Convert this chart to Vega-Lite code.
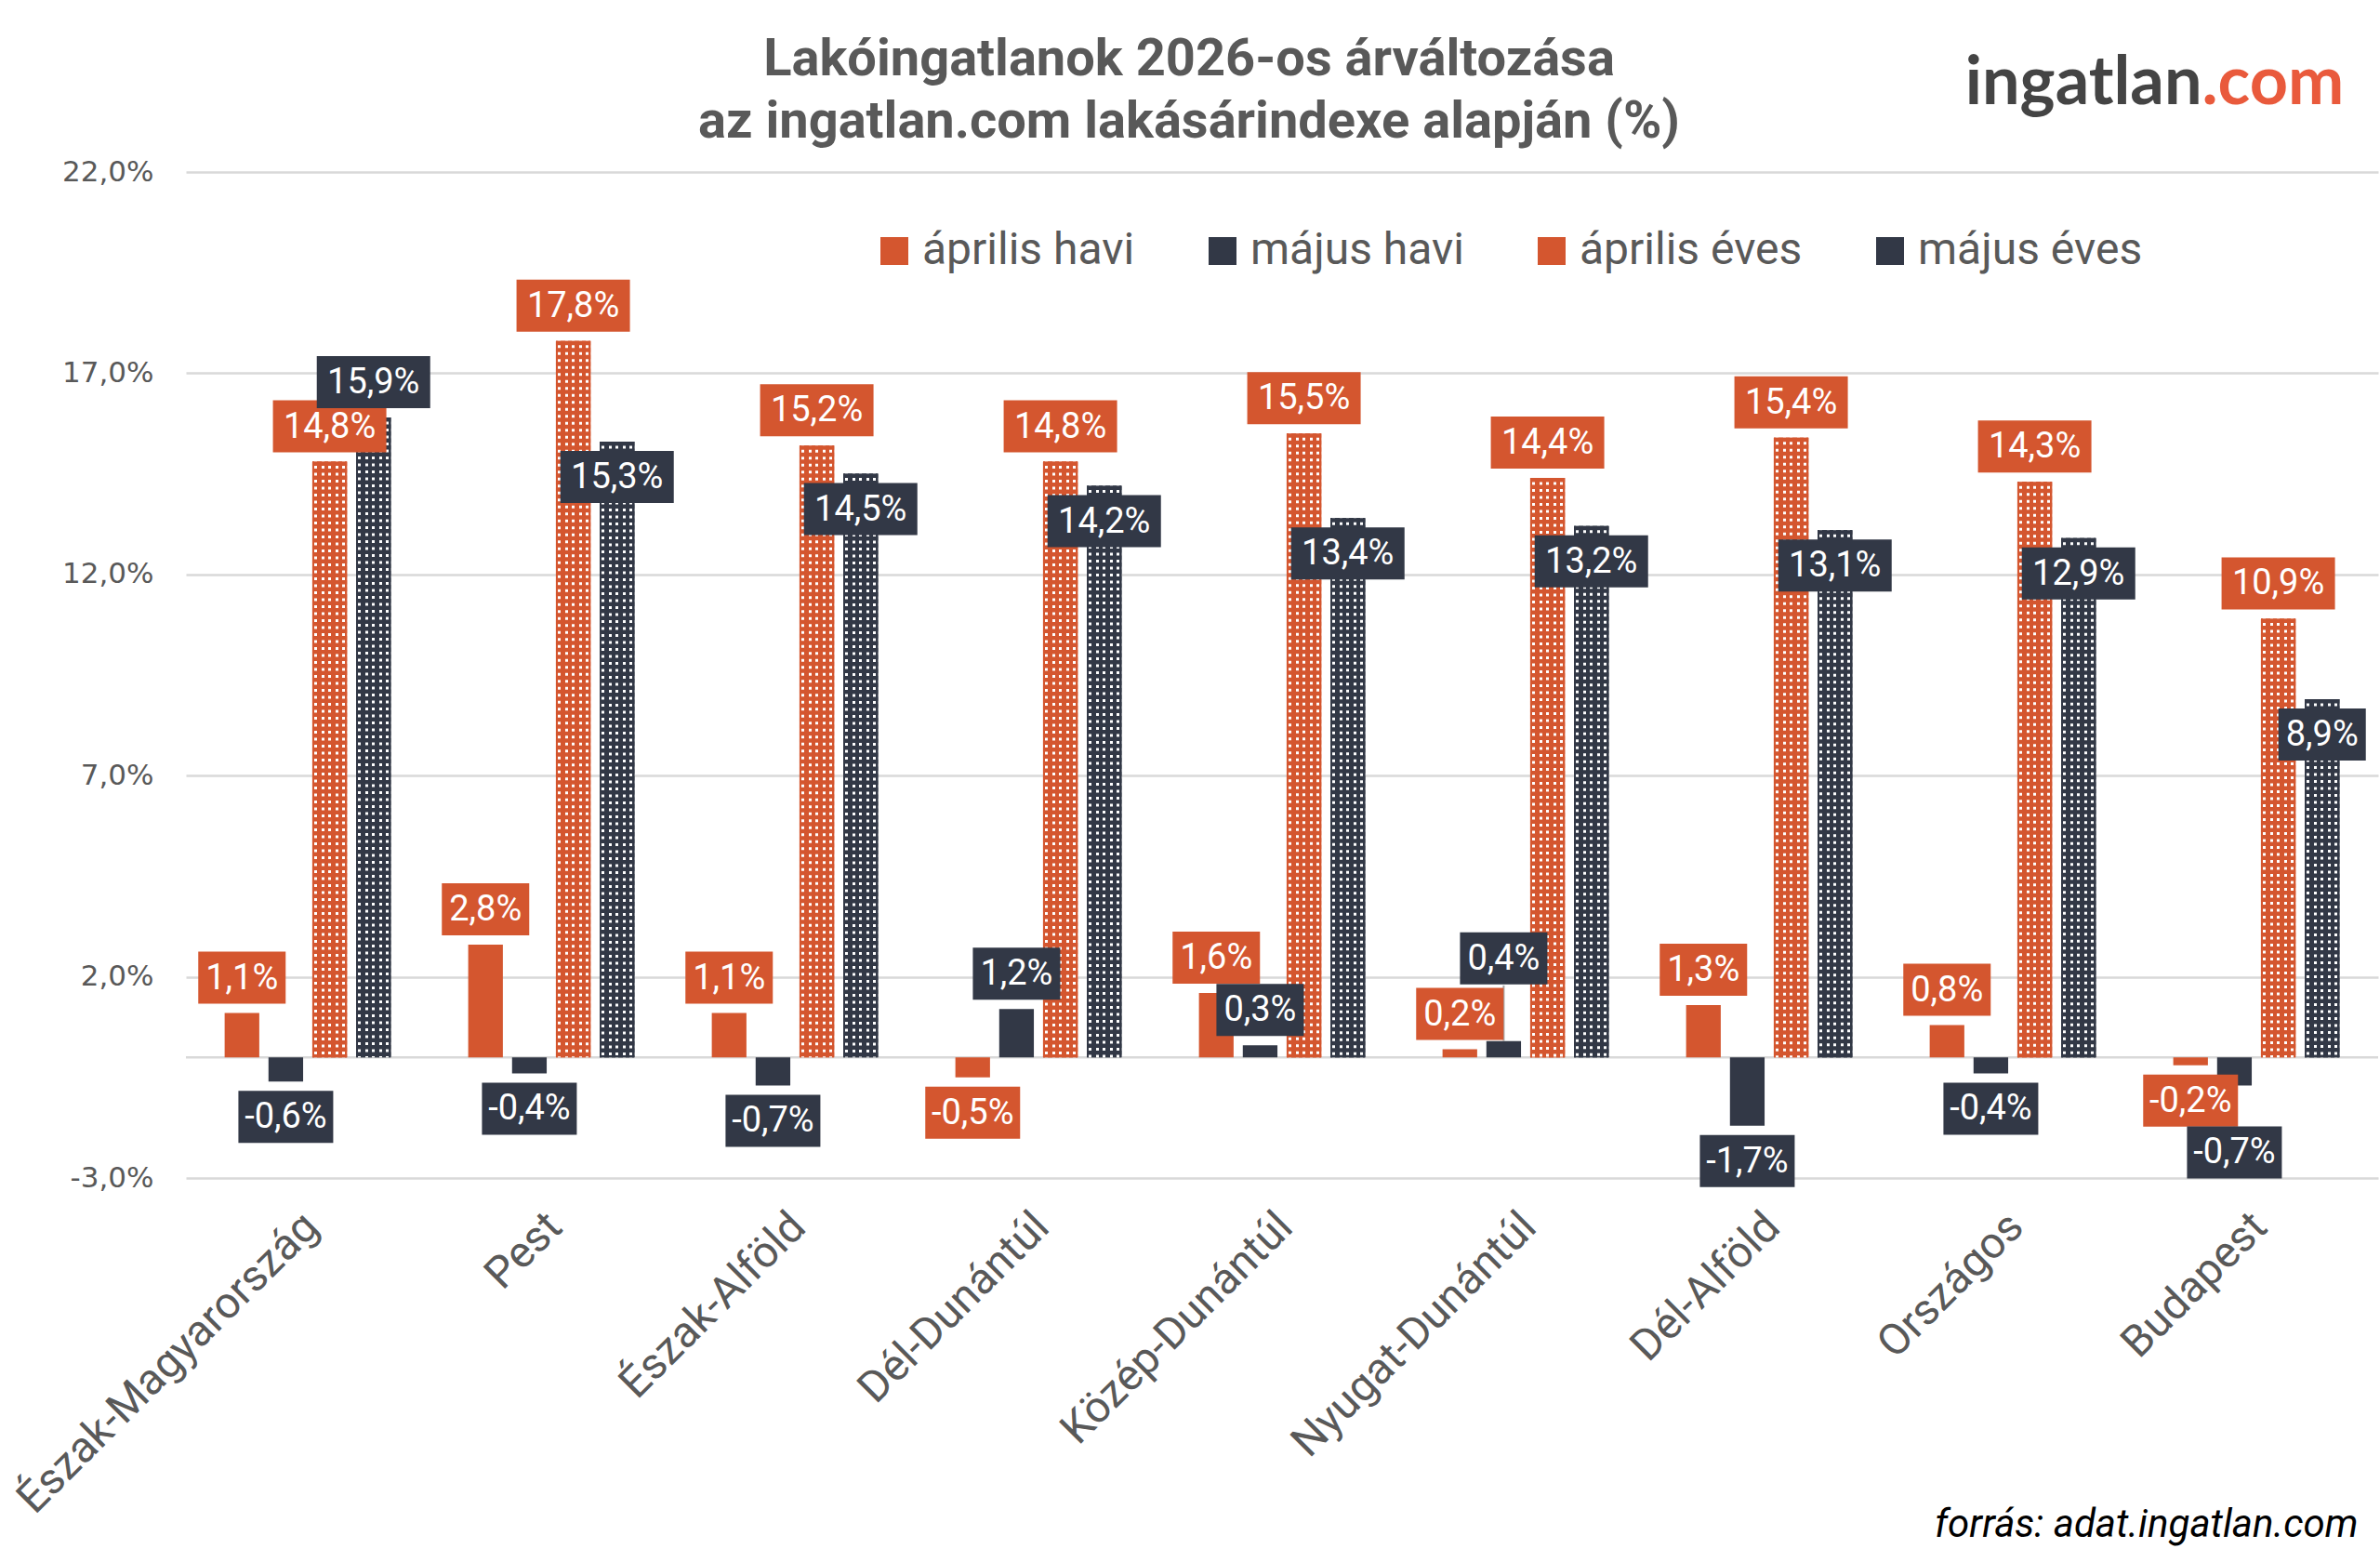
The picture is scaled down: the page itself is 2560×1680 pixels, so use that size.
{
  "$schema": "https://vega.github.io/schema/vega-lite/v6.json",
  "width": 2358,
  "height": 1082,
  "autosize": {"type": "none"},
  "padding": {"left": 200, "top": 185, "right": 2, "bottom": 413},
  "background": "#ffffff",
  "title": {
    "text": ["Lakóingatlanok 2026-os árváltozása", "az ingatlan.com lakásárindexe alapján (%)"],
    "anchor": "middle",
    "frame": "group",
    "dx": -100,
    "dy": 131,
    "offset": 24,
    "font": "Roboto",
    "fontSize": 56,
    "fontWeight": "bold",
    "color": "#595959",
    "lineHeight": 67
  },
  "data": {
    "values": [
      {"region": "Észak-Magyarország", "series": "április havi", "value": 1.1},
      {"region": "Észak-Magyarország", "series": "május havi", "value": -0.6},
      {"region": "Észak-Magyarország", "series": "április éves", "value": 14.8},
      {"region": "Észak-Magyarország", "series": "május éves", "value": 15.9},
      {"region": "Pest", "series": "április havi", "value": 2.8},
      {"region": "Pest", "series": "május havi", "value": -0.4},
      {"region": "Pest", "series": "április éves", "value": 17.8},
      {"region": "Pest", "series": "május éves", "value": 15.3},
      {"region": "Észak-Alföld", "series": "április havi", "value": 1.1},
      {"region": "Észak-Alföld", "series": "május havi", "value": -0.7},
      {"region": "Észak-Alföld", "series": "április éves", "value": 15.2},
      {"region": "Észak-Alföld", "series": "május éves", "value": 14.5},
      {"region": "Dél-Dunántúl", "series": "április havi", "value": -0.5},
      {"region": "Dél-Dunántúl", "series": "május havi", "value": 1.2},
      {"region": "Dél-Dunántúl", "series": "április éves", "value": 14.8},
      {"region": "Dél-Dunántúl", "series": "május éves", "value": 14.2},
      {"region": "Közép-Dunántúl", "series": "április havi", "value": 1.6},
      {"region": "Közép-Dunántúl", "series": "május havi", "value": 0.3},
      {"region": "Közép-Dunántúl", "series": "április éves", "value": 15.5},
      {"region": "Közép-Dunántúl", "series": "május éves", "value": 13.4},
      {"region": "Nyugat-Dunántúl", "series": "április havi", "value": 0.2},
      {"region": "Nyugat-Dunántúl", "series": "május havi", "value": 0.4},
      {"region": "Nyugat-Dunántúl", "series": "április éves", "value": 14.4},
      {"region": "Nyugat-Dunántúl", "series": "május éves", "value": 13.2},
      {"region": "Dél-Alföld", "series": "április havi", "value": 1.3},
      {"region": "Dél-Alföld", "series": "május havi", "value": -1.7},
      {"region": "Dél-Alföld", "series": "április éves", "value": 15.4},
      {"region": "Dél-Alföld", "series": "május éves", "value": 13.1},
      {"region": "Országos", "series": "április havi", "value": 0.8},
      {"region": "Országos", "series": "május havi", "value": -0.4},
      {"region": "Országos", "series": "április éves", "value": 14.3},
      {"region": "Országos", "series": "május éves", "value": 12.9},
      {"region": "Budapest", "series": "április havi", "value": -0.2},
      {"region": "Budapest", "series": "május havi", "value": -0.7},
      {"region": "Budapest", "series": "április éves", "value": 10.9},
      {"region": "Budapest", "series": "május éves", "value": 8.9}
    ]
  },
  "transform": [
    {"calculate": "(datum.value < 0 ? '-' : '') + replace(format(abs(datum.value), '.1f'), '.', ',') + '%'", "as": "label"},
    {"calculate": "length(datum.label) == 4 ? 94 : (datum.value < 0 ? 102 : 122)", "as": "boxWidth"}
  ],
  "layer": [
    {
      "data": {"values": [{}]},
      "mark": {"type": "rule", "color": "#d9d9d9", "strokeWidth": 2.5},
      "encoding": {
        "y": {
          "datum": 0,
          "type": "quantitative",
          "axis": {
            "orient": "right",
            "labels": false,
            "grid": false,
            "title": ".com",
            "titleAngle": 0,
            "titleX": -190,
            "titleY": -74,
            "titleAlign": "left",
            "titleBaseline": "alphabetic",
            "titleFont": "Lato",
            "titleFontSize": 72,
            "titleFontWeight": "bold",
            "titleColor": "#E95A3C"
          }
        }
      }
    },
    {
      "encoding": {
        "x": {
          "field": "region",
          "type": "nominal",
          "sort": null,
          "scale": {
            "domain": ["Észak-Magyarország", "Pest", "Észak-Alföld", "Dél-Dunántúl", "Közép-Dunántúl", "Nyugat-Dunántúl", "Dél-Alföld", "Országos", "Budapest"],
            "paddingInner": 0.28,
            "paddingOuter": 0.14
          },
          "axis": {
            "labelAngle": -45,
            "labelAlign": "right",
            "labelBaseline": "middle",
            "labelFont": "Roboto",
            "labelFontSize": 47,
            "labelColor": "#595959",
            "labelPadding": 45,
            "labelOffset": 4,
            "labelLimit": 0,
            "grid": false,
            "title": "forrás: adat.ingatlan.com",
            "titleX": 2336,
            "titleY": 385,
            "titleAlign": "right",
            "titleBaseline": "alphabetic",
            "titleFont": "Roboto",
            "titleFontStyle": "italic",
            "titleFontWeight": "normal",
            "titleFontSize": 42,
            "titleColor": "#000000"
          }
        },
        "xOffset": {
          "field": "series",
          "type": "nominal",
          "scale": {
            "domain": ["április havi", "május havi", "április éves", "május éves"],
            "paddingInner": 0.21,
            "paddingOuter": 0.105
          }
        },
        "y": {
          "field": "value",
          "type": "quantitative",
          "scale": {"domain": [-3, 22], "nice": false},
          "axis": {
            "values": [-3, 2, 7, 12, 17, 22],
            "labelExpr": "(datum.value < 0 ? '-' : '') + replace(format(abs(datum.value), '.1f'), '.', ',') + '%'",
            "labelFont": "DejaVu Sans",
            "labelFontSize": 31,
            "labelColor": "#595959",
            "labelPadding": 35,
            "grid": true,
            "title": "ingatlan",
            "titleAngle": 0,
            "titleX": 2168,
            "titleY": -74,
            "titleAlign": "right",
            "titleBaseline": "alphabetic",
            "titleFont": "Lato",
            "titleFontSize": 72,
            "titleFontWeight": "bold",
            "titleColor": "#444444"
          }
        }
      },
      "layer": [
        {
          "mark": {"type": "bar"},
          "encoding": {
            "fill": {
              "field": "series",
              "type": "nominal",
              "scale": {
                "domain": ["április havi", "május havi", "április éves", "május éves"],
                "range": ["#D4562F", "#323846", "#D4562F", "#323846"]
              },
              "legend": {
                "orient": "none",
                "legendX": 738,
                "legendY": 61,
                "direction": "horizontal",
                "columns": 4,
                "title": null,
                "symbolType": "square",
                "symbolSize": 900,
                "symbolStrokeWidth": 0,
                "labelFont": "Roboto",
                "labelFontSize": 48,
                "labelColor": "#595959",
                "labelOffset": 6,
                "labelLimit": 0,
                "columnPadding": 70
              }
            }
          }
        },
        {
          "transform": [{"filter": "datum.series === 'április éves'"}],
          "mark": {
            "type": "bar",
            "fill": {
              "gradient": "linear", "x1": 0, "y1": 0, "x2": 1, "y2": 0,
              "stops": [
                {"offset": 0, "color": "#D4562F"}, {"offset": 0.06, "color": "#D4562F"},
                {"offset": 0.06, "color": "#ffffff"}, {"offset": 0.14, "color": "#ffffff"},
                {"offset": 0.14, "color": "#D4562F"}, {"offset": 0.26, "color": "#D4562F"},
                {"offset": 0.26, "color": "#ffffff"}, {"offset": 0.34, "color": "#ffffff"},
                {"offset": 0.34, "color": "#D4562F"}, {"offset": 0.46, "color": "#D4562F"},
                {"offset": 0.46, "color": "#ffffff"}, {"offset": 0.54, "color": "#ffffff"},
                {"offset": 0.54, "color": "#D4562F"}, {"offset": 0.66, "color": "#D4562F"},
                {"offset": 0.66, "color": "#ffffff"}, {"offset": 0.74, "color": "#ffffff"},
                {"offset": 0.74, "color": "#D4562F"}, {"offset": 0.86, "color": "#D4562F"},
                {"offset": 0.86, "color": "#ffffff"}, {"offset": 0.94, "color": "#ffffff"},
                {"offset": 0.94, "color": "#D4562F"}, {"offset": 1, "color": "#D4562F"}
              ]
            }
          }
        },
        {
          "transform": [{"filter": "datum.series === 'május éves'"}],
          "mark": {
            "type": "bar",
            "fill": {
              "gradient": "linear", "x1": 0, "y1": 0, "x2": 1, "y2": 0,
              "stops": [
                {"offset": 0, "color": "#323846"}, {"offset": 0.06, "color": "#323846"},
                {"offset": 0.06, "color": "#ffffff"}, {"offset": 0.14, "color": "#ffffff"},
                {"offset": 0.14, "color": "#323846"}, {"offset": 0.26, "color": "#323846"},
                {"offset": 0.26, "color": "#ffffff"}, {"offset": 0.34, "color": "#ffffff"},
                {"offset": 0.34, "color": "#323846"}, {"offset": 0.46, "color": "#323846"},
                {"offset": 0.46, "color": "#ffffff"}, {"offset": 0.54, "color": "#ffffff"},
                {"offset": 0.54, "color": "#323846"}, {"offset": 0.66, "color": "#323846"},
                {"offset": 0.66, "color": "#ffffff"}, {"offset": 0.74, "color": "#ffffff"},
                {"offset": 0.74, "color": "#323846"}, {"offset": 0.86, "color": "#323846"},
                {"offset": 0.86, "color": "#ffffff"}, {"offset": 0.94, "color": "#ffffff"},
                {"offset": 0.94, "color": "#323846"}, {"offset": 1, "color": "#323846"}
              ]
            }
          }
        },
        {
          "transform": [{"filter": "datum.series === 'április éves'"}],
          "mark": {"type": "rule", "color": "#D4562F", "strokeWidth": 37.2, "strokeDash": [4.5, 3], "strokeCap": "butt"},
          "encoding": {"y2": {"datum": 0}}
        },
        {
          "transform": [{"filter": "datum.series === 'május éves'"}],
          "mark": {"type": "rule", "color": "#323846", "strokeWidth": 37.2, "strokeDash": [4.5, 3], "strokeCap": "butt"},
          "encoding": {"y2": {"datum": 0}}
        },
        {
          "transform": [{"filter": "datum.region === 'Nyugat-Dunántúl' && datum.series === 'május havi'"}],
          "mark": {"type": "rule", "color": "#a6a6a6", "strokeWidth": 2, "y2Offset": -60},
          "encoding": {"y2": {"field": "value"}}
        },
        {
          "transform": [{"filter": "datum.region === 'Budapest' && datum.series === 'május havi'"}],
          "mark": {"type": "rule", "color": "#a6a6a6", "strokeWidth": 2, "y2Offset": 44},
          "encoding": {"y2": {"field": "value"}}
        },
        {
          "transform": [{"filter": "datum.value >= 0 && (datum.series !== 'május éves' || datum.region === 'Észak-Magyarország') && !(datum.region === 'Nyugat-Dunántúl' && datum.series === 'május havi')"}],
          "mark": {"type": "tick", "orient": "horizontal", "thickness": 56, "opacity": 1, "yOffset": -38},
          "encoding": {
            "color": {"field": "series", "type": "nominal", "scale": {"domain": ["április havi", "május havi", "április éves", "május éves"], "range": ["#D4562F", "#323846", "#D4562F", "#323846"]}, "legend": null},
            "size": {"field": "boxWidth", "type": "quantitative", "scale": null}
          }
        },
        {
          "transform": [{"filter": "datum.series === 'május éves' && datum.region !== 'Észak-Magyarország'"}],
          "mark": {"type": "tick", "orient": "horizontal", "thickness": 56, "opacity": 1, "yOffset": 38},
          "encoding": {
            "color": {"field": "series", "type": "nominal", "legend": null},
            "size": {"field": "boxWidth", "type": "quantitative", "scale": null}
          }
        },
        {
          "transform": [{"filter": "datum.value < 0 && !(datum.region === 'Budapest' && datum.series === 'május havi')"}],
          "mark": {"type": "tick", "orient": "horizontal", "thickness": 56, "opacity": 1, "yOffset": 38},
          "encoding": {
            "color": {"field": "series", "type": "nominal", "legend": null},
            "size": {"field": "boxWidth", "type": "quantitative", "scale": null}
          }
        },
        {
          "transform": [{"filter": "datum.region === 'Nyugat-Dunántúl' && datum.series === 'május havi'"}],
          "mark": {"type": "tick", "orient": "horizontal", "thickness": 56, "opacity": 1, "yOffset": -89},
          "encoding": {
            "color": {"field": "series", "type": "nominal", "legend": null},
            "size": {"field": "boxWidth", "type": "quantitative", "scale": null}
          }
        },
        {
          "transform": [{"filter": "datum.region === 'Budapest' && datum.series === 'május havi'"}],
          "mark": {"type": "tick", "orient": "horizontal", "thickness": 56, "opacity": 1, "yOffset": 72, "xOffset": 7},
          "encoding": {
            "color": {"field": "series", "type": "nominal", "legend": null},
            "size": {"field": "boxWidth", "type": "quantitative", "scale": null}
          }
        },
        {
          "transform": [{"filter": "datum.value >= 0 && (datum.series !== 'május éves' || datum.region === 'Észak-Magyarország') && !(datum.region === 'Nyugat-Dunántúl' && datum.series === 'május havi')"}],
          "mark": {"type": "text", "color": "#ffffff", "font": "Roboto", "fontSize": 38, "baseline": "middle", "align": "center", "yOffset": -37},
          "encoding": {"text": {"field": "label"}}
        },
        {
          "transform": [{"filter": "datum.series === 'május éves' && datum.region !== 'Észak-Magyarország'"}],
          "mark": {"type": "text", "color": "#ffffff", "font": "Roboto", "fontSize": 38, "baseline": "middle", "align": "center", "yOffset": 39},
          "encoding": {"text": {"field": "label"}}
        },
        {
          "transform": [{"filter": "datum.value < 0 && !(datum.region === 'Budapest' && datum.series === 'május havi')"}],
          "mark": {"type": "text", "color": "#ffffff", "font": "Roboto", "fontSize": 38, "baseline": "middle", "align": "center", "yOffset": 39},
          "encoding": {"text": {"field": "label"}}
        },
        {
          "transform": [{"filter": "datum.region === 'Nyugat-Dunántúl' && datum.series === 'május havi'"}],
          "mark": {"type": "text", "color": "#ffffff", "font": "Roboto", "fontSize": 38, "baseline": "middle", "align": "center", "yOffset": -88},
          "encoding": {"text": {"field": "label"}}
        },
        {
          "transform": [{"filter": "datum.region === 'Budapest' && datum.series === 'május havi'"}],
          "mark": {"type": "text", "color": "#ffffff", "font": "Roboto", "fontSize": 38, "baseline": "middle", "align": "center", "yOffset": 73, "xOffset": 7},
          "encoding": {"text": {"field": "label"}}
        }
      ]
    }
  ],
  "resolve": {"axis": {"y": "independent"}},
  "config": {
    "font": "Roboto",
    "view": {"stroke": null},
    "axis": {
      "domain": false,
      "ticks": false,
      "gridColor": "#d9d9d9",
      "gridWidth": 2.5
    }
  }
}
